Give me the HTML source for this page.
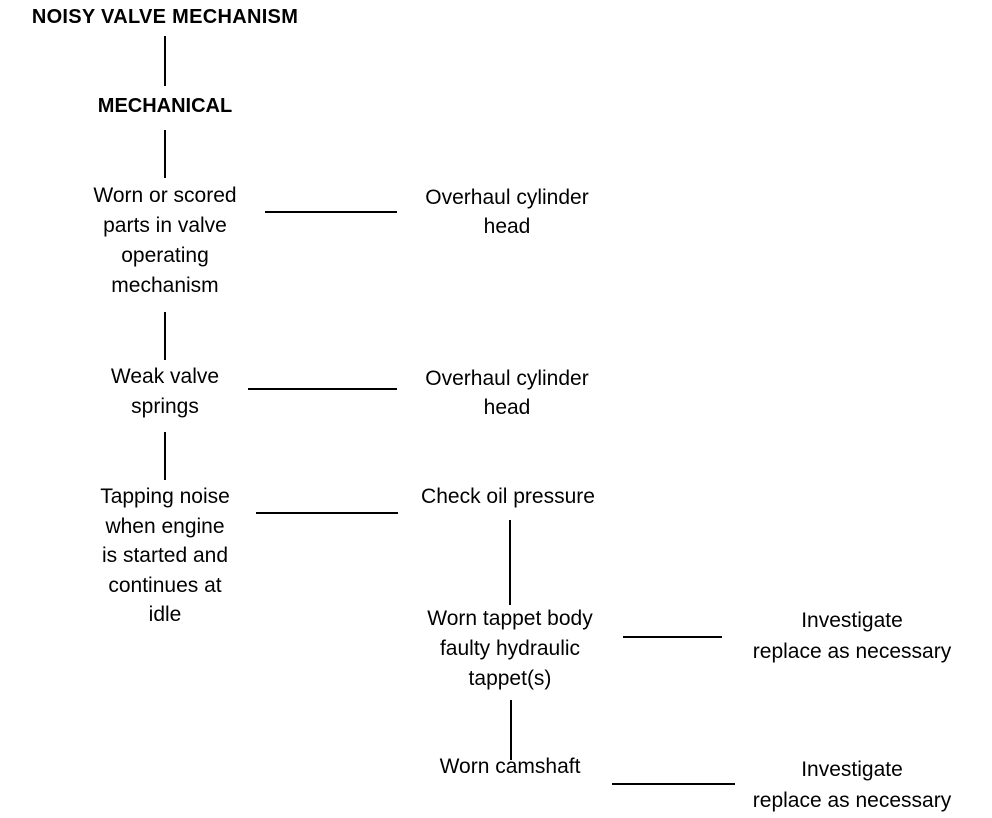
<!DOCTYPE html>
<html><head><meta charset="utf-8"><style>
body{margin:0;background:#fff;width:992px;height:818px;position:relative;overflow:hidden;font-family:"Liberation Sans",sans-serif;color:#000}
.t{position:absolute;transform:translateX(-50%);text-align:center;font-size:21px;line-height:30px;white-space:nowrap}
.b{font-weight:bold;font-size:20px}
.v{position:absolute;width:2px;background:#000}
.h{position:absolute;height:2px;background:#000}
</style></head><body>
<div class="t b" style="left:165px;top:2px;letter-spacing:0.3px">NOISY VALVE MECHANISM</div>
<div class="v" style="left:164px;top:36px;height:50px"></div>
<div class="t b" style="left:165px;top:91px">MECHANICAL</div>
<div class="v" style="left:164px;top:130px;height:48px"></div>
<div class="t" style="left:165px;top:181px">Worn or scored<br>parts in valve<br>operating<br>mechanism</div>
<div class="h" style="left:265px;top:211px;width:132px"></div>
<div class="t" style="left:507px;top:183px;line-height:29px">Overhaul cylinder<br>head</div>
<div class="v" style="left:164px;top:312px;height:48px"></div>
<div class="t" style="left:165px;top:362px;line-height:30px">Weak valve<br>springs</div>
<div class="h" style="left:248px;top:388px;width:149px"></div>
<div class="t" style="left:507px;top:364px;line-height:29px">Overhaul cylinder<br>head</div>
<div class="v" style="left:164px;top:432px;height:48px"></div>
<div class="t" style="left:165px;top:482px;line-height:29.5px">Tapping noise<br>when engine<br>is started and<br>continues at<br>idle</div>
<div class="h" style="left:256px;top:512px;width:142px"></div>
<div class="t" style="left:508px;top:482px">Check oil pressure</div>
<div class="v" style="left:509px;top:520px;height:85px"></div>
<div class="t" style="left:510px;top:604px">Worn tappet body<br>faulty hydraulic<br>tappet(s)</div>
<div class="h" style="left:623px;top:636px;width:99px"></div>
<div class="t" style="left:852px;top:605px;line-height:31px">Investigate<br>replace as necessary</div>
<div class="v" style="left:510px;top:700px;height:60px"></div>
<div class="t" style="left:510px;top:752px">Worn camshaft</div>
<div class="h" style="left:612px;top:783px;width:123px"></div>
<div class="t" style="left:852px;top:754px;line-height:31px">Investigate<br>replace as necessary</div>
</body></html>
